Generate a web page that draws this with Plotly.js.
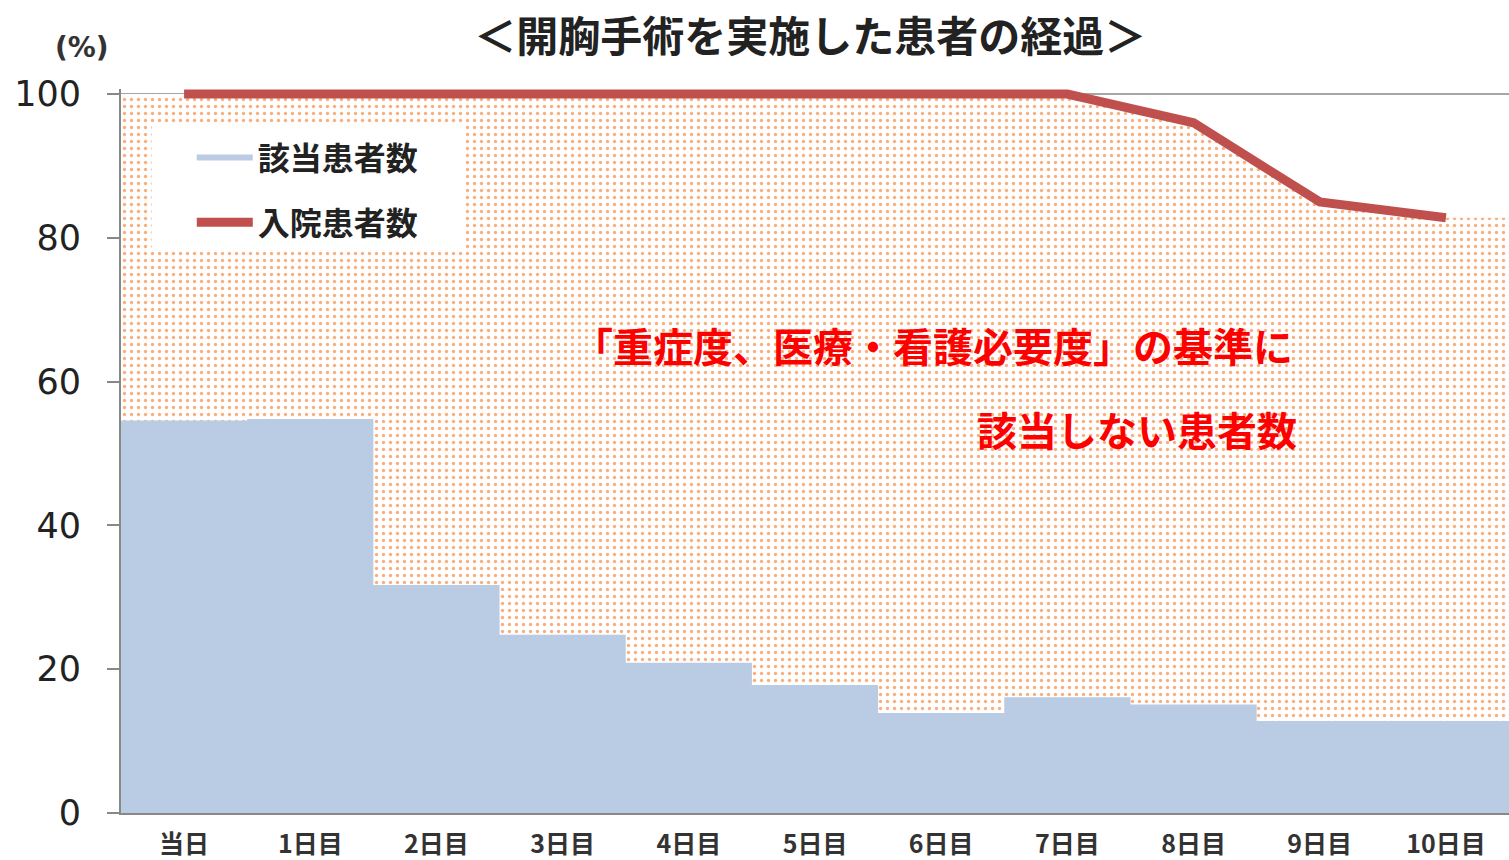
<!DOCTYPE html>
<html>
<head>
<meta charset="utf-8">
<script src="https://cdn.plot.ly/plotly-3.0.1.min.js"></script>
<style>
  html, body { margin: 0; padding: 0; background: #fff; }
  #chart { width: 1509px; height: 860px; }
</style>
</head>
<body>
<div id="chart"></div>
<script>
// ---- data ----
const categories = ['当日', '1日目', '2日目', '3日目', '4日目', '5日目', '6日目', '7日目', '8日目', '9日目', '10日目'];
const applicablePct = [54.6, 54.8, 31.7, 24.8, 20.9, 17.8, 13.9, 16.1, 15.1, 12.8, 12.8];
const inpatientPct = [100, 100, 100, 100, 100, 100, 100, 100, 96.0, 85.0, 82.8];
const yTicks = [0, 20, 40, 60, 80, 100];
const titleText = '＜開胸手術を実施した患者の経過＞';
const noteLine1 = '「重症度、医療・看護必要度」の基準に';
const noteLine2 = '該当しない患者数';

const idx = categories.map((_, i) => i);
const JP = '"Noto Sans CJK JP", "Noto Sans", sans-serif';

// extend each series across the full category band (half a category at each end)
const bandX = [-0.5].concat(idx, [categories.length - 0.5]);
const extend = arr => [arr[0]].concat(arr, [arr[arr.length - 1]]);

const traces = [
  {
    // non-applicable patients: dotted area under the inpatient line
    type: 'scatter', mode: 'none', x: bandX, y: extend(inpatientPct),
    fill: 'tozeroy', fillcolor: 'rgba(0,0,0,0)',
    fillpattern: { shape: '.', fgcolor: '#f9ae7c', bgcolor: '#ffffff', size: 7, solidity: 0.18 },
    showlegend: false, hoverinfo: 'skip'
  },
  {
    // applicable patients: one full-width column per day (stepped area)
    type: 'scatter', mode: 'none', name: '該当患者数', x: bandX, y: extend(applicablePct),
    line: { shape: 'hvh', width: 0 },
    fill: 'tozeroy', fillcolor: '#b9cce4',
    legendgroup: 'a'
  },
  {
    type: 'scatter', mode: 'lines', name: '入院患者数', x: idx, y: inpatientPct,
    line: { color: '#c0504d', width: 9 },
    legendgroup: 'b'
  }
];

const layout = {
  width: 1509, height: 860,
  margin: { l: 121, r: 0, t: 89, b: 47 },
  paper_bgcolor: '#ffffff', plot_bgcolor: '#ffffff',
  showlegend: true,
  title: {
    text: titleText,
    font: { family: JP, size: 42, color: '#222', weight: 'bold' },
    x: 0.537, xref: 'container', xanchor: 'center',
    y: 0.957, yref: 'container', yanchor: 'middle'
  },
  xaxis: {
    range: [-0.5, categories.length - 0.5],
    tickmode: 'array', tickvals: idx, ticktext: categories,
    tickfont: { family: JP, size: 25, color: '#333', weight: 'bold' },
    showgrid: false, zeroline: false,
    showline: true, linecolor: '#888', linewidth: 2,
    ticks: '', ticklabelstandoff: 8
  },
  yaxis: {
    range: [0, 100.7],
    tickmode: 'array', tickvals: yTicks,
    tickfont: { family: '"DejaVu Sans", Verdana, sans-serif', size: 35, color: '#222' },
    showgrid: true, gridcolor: '#a6a6a6', gridwidth: 2,
    zeroline: false,
    showline: true, linecolor: '#888', linewidth: 2,
    ticks: 'outside', ticklen: 12, tickcolor: '#888', tickwidth: 2,
    ticklabelstandoff: 19
  },
  legend: {
    x: 0.051, y: 0.943, xanchor: 'left', yanchor: 'top',
    bgcolor: 'rgba(0,0,0,0)', borderwidth: 0,
    font: { family: JP, size: 32, color: '#222', weight: 'bold' },
    traceorder: 'grouped', tracegroupgap: 20,
    itemwidth: 56
  },
  shapes: [
    {
      type: 'rect', xref: 'paper', yref: 'paper', layer: 'above',
      x0: 0.022, x1: 0.248, y0: 0.775, y1: 0.952,
      fillcolor: '#ffffff', line: { width: 0 }
    }
  ],
  annotations: [
    {
      text: '(%)', xref: 'paper', yref: 'paper', x: -0.028, y: 1.058,
      xanchor: 'center', yanchor: 'middle', showarrow: false,
      font: { family: '"DejaVu Sans", sans-serif', size: 28, color: '#333', weight: 'bold' }
    },
    {
      text: noteLine1, xref: 'paper', yref: 'paper', x: 0.846, y: 0.646,
      xanchor: 'right', yanchor: 'middle', showarrow: false,
      font: { family: JP, size: 40, color: '#ff0000', weight: 'bold' }
    },
    {
      text: noteLine2, xref: 'paper', yref: 'paper', x: 0.849, y: 0.531,
      xanchor: 'right', yanchor: 'middle', showarrow: false,
      font: { family: JP, size: 40, color: '#ff0000', weight: 'bold' }
    }
  ]
};

Plotly.newPlot('chart', traces, layout, { displayModeBar: false, staticPlot: true });
</script>
</body>
</html>
